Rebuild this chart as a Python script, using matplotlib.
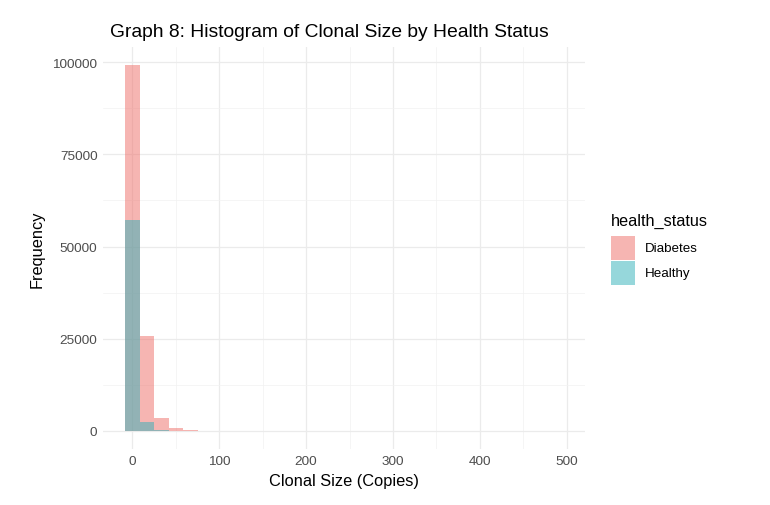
import numpy as np
import matplotlib.pyplot as plt
from matplotlib.patches import Rectangle
from matplotlib.ticker import MultipleLocator

plt.rcParams['font.family'] = ['Liberation Sans', 'DejaVu Sans']

# histogram counts per bin (30 bins)
bin_width = 16.8
diabetes = [99200, 25800, 3450, 640, 160, 35, 20, 12, 8, 6, 5, 4, 3, 2, 2,
            1, 1, 1, 1, 0, 1, 0, 0, 1, 0, 0, 0, 0, 0, 1]
healthy = [57200, 2500, 110, 20, 6, 3, 1, 1, 0, 0, 0, 0, 0, 0, 0,
           0, 0, 0, 0, 0, 0, 0, 0, 0, 0, 0, 0, 0, 0, 0]
groups = ['Diabetes', 'Healthy']
colors = ['#EF6D67', '#2FB1B9']

centers = np.arange(len(diabetes)) * bin_width

fig = plt.figure(figsize=(7.7, 5.06), dpi=100)
ax = fig.add_axes([0.1338, 0.1107, 0.6259, 0.7944])

for vals, col in zip([diabetes, healthy], colors):
    ax.bar(centers, vals, width=bin_width, color=col, alpha=0.5, linewidth=0)

lo = centers[0] - bin_width / 2
hi = centers[-1] + bin_width / 2
pad = (hi - lo) * 0.05
ax.set_xlim(lo - pad, hi + pad)
ymax = max(diabetes)
ax.set_ylim(-ymax * 0.05, ymax * 1.05)

ax.xaxis.set_major_locator(MultipleLocator(100))
ax.xaxis.set_minor_locator(MultipleLocator(50))
ax.yaxis.set_minor_locator(MultipleLocator(12500))
ax.set_yticks([0, 25000, 50000, 75000, 100000])
ax.set_yticklabels(['0', '25000', '50000', '75000', '100000'])

ax.grid(True, which='major', color='#EBEBEB', linewidth=0.9)
ax.grid(True, which='minor', color='#F2F2F2', linewidth=0.5)
ax.set_axisbelow(True)
for s in ax.spines.values():
    s.set_visible(False)
ax.tick_params(which='both', length=0, labelsize=9.7, labelcolor='#4D4D4D', pad=4)

ax.set_xlabel('Clonal Size (Copies)', fontsize=11.8, labelpad=5)
ax.set_ylabel('Frequency', fontsize=11.8, labelpad=6)
fig.text(0.1429, 0.927, 'Graph 8: Histogram of Clonal Size by Health Status',
         fontsize=13.9, ha='left', va='baseline')

# legend, ggplot style
fig.text(611 / 770, 1 - 226 / 506, 'health_status', fontsize=11.7,
         ha='left', va='baseline')
for i, (g, c) in enumerate(zip(groups, colors)):
    top = 237 + i * 25
    fig.add_artist(Rectangle((611 / 770, 1 - (top + 24) / 506), 24 / 770, 24 / 506,
                             transform=fig.transFigure, facecolor=c, alpha=0.5,
                             linewidth=0))
    fig.text(645 / 770, 1 - (top + 12) / 506, g, fontsize=9.6,
             ha='left', va='center')

fig.savefig('out.png', dpi=100)
